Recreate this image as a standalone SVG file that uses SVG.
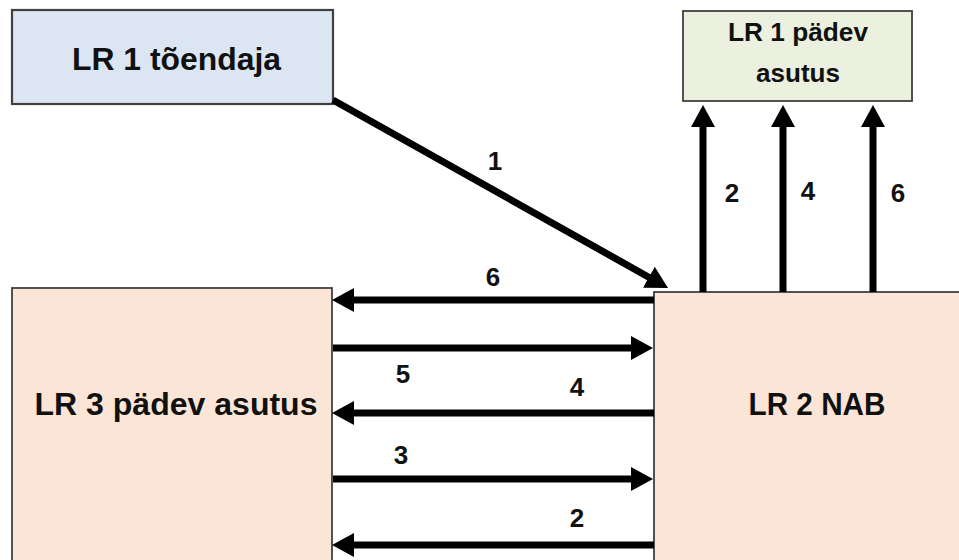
<svg xmlns="http://www.w3.org/2000/svg" width="959" height="560" viewBox="0 0 959 560">
<defs>
<style>
.box{stroke:#404040;stroke-width:1.8}
.t{font-family:"Liberation Sans",Arial,sans-serif;font-weight:bold;fill:#111;text-anchor:middle}
.big{font-size:31px}
.mid{font-size:25px}
.num{font-size:26px}
.ln{stroke:#000;stroke-width:7;fill:none;marker-end:url(#ah)}
</style>
<marker id="ah" markerUnits="userSpaceOnUse" markerWidth="24" markerHeight="26" refX="2" refY="12" orient="auto" viewBox="0 0 24 26">
<path d="M0,0 L22,12 L0,24 z" fill="#000"/>
</marker>
</defs>
<rect width="959" height="560" fill="#fff"/>
<g id="node-tõendaja">
<rect class="box" x="12" y="10" width="321" height="94" fill="#dce6f2" style="stroke-width:2.2"/>
<text class="t big" x="176.5" y="70" textLength="209" lengthAdjust="spacingAndGlyphs">LR 1 tõendaja</text>
</g>
<g id="node-lr1-padev">
<rect class="box" x="683" y="11" width="229" height="90" fill="#ebf1de"/>
<text class="t mid" x="798" y="41" textLength="140" lengthAdjust="spacingAndGlyphs">LR 1 pädev</text>
<text class="t mid" x="798" y="82" textLength="84" lengthAdjust="spacingAndGlyphs">asutus</text>
</g>
<g id="node-lr3-padev">
<rect class="box" x="12" y="288" width="320" height="290" fill="#fbe5d6"/>
<text class="t big" x="176" y="415" textLength="283" lengthAdjust="spacingAndGlyphs">LR 3 pädev asutus</text>
</g>
<g id="node-lr2-nab">
<rect class="box" x="654" y="292" width="320" height="290" fill="#fbe5d6"/>
<text class="t big" x="817" y="415" textLength="137" lengthAdjust="spacingAndGlyphs">LR 2 NAB</text>
</g>
<g id="connectors">
<line class="ln" x1="333" y1="100" x2="650.6" y2="278.2"/>
<line class="ln" x1="703" y1="292" x2="703" y2="125"/>
<line class="ln" x1="783" y1="292" x2="783" y2="125"/>
<line class="ln" x1="873" y1="292" x2="873" y2="125"/>
<line class="ln" x1="654" y1="300" x2="352" y2="300"/>
<line class="ln" x1="333" y1="348" x2="633" y2="348"/>
<line class="ln" x1="654" y1="413" x2="352" y2="413"/>
<line class="ln" x1="333" y1="479" x2="633" y2="479"/>
<line class="ln" x1="654" y1="545" x2="352" y2="545"/>
<text class="t num" x="495" y="170">1</text>
<text class="t num" x="732" y="202">2</text>
<text class="t num" x="808" y="200">4</text>
<text class="t num" x="898" y="202">6</text>
<text class="t num" x="493" y="286">6</text>
<text class="t num" x="403" y="383">5</text>
<text class="t num" x="577" y="396">4</text>
<text class="t num" x="401" y="464">3</text>
<text class="t num" x="577" y="527">2</text>
</g>
</svg>
